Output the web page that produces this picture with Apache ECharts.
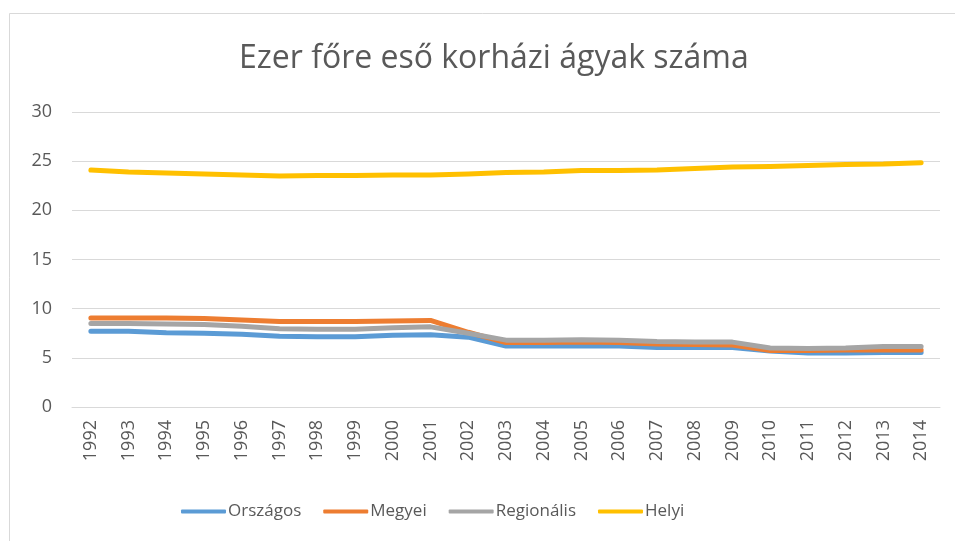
<!DOCTYPE html>
<html>
<head>
<meta charset="utf-8">
<script src="https://cdn.jsdelivr.net/npm/echarts@6/dist/echarts.min.js"></script>
<style>
  html, body { margin: 0; padding: 0; background: #fff; }
  #chart { width: 955px; height: 541px; }
</style>
</head>
<body>
<div id="chart"></div>
<script>
// évek és adatsorok
const years = ['1992','1993','1994','1995','1996','1997','1998','1999','2000','2001','2002','2003','2004','2005','2006','2007','2008','2009','2010','2011','2012','2013','2014'];
const orszagos = [7.7, 7.7, 7.55, 7.5, 7.4, 7.2, 7.15, 7.15, 7.3, 7.35, 7.1, 6.2, 6.2, 6.2, 6.2, 6.05, 6.05, 6.05, 5.7, 5.5, 5.5, 5.55, 5.55];
const megyei = [9.05, 9.05, 9.05, 9.0, 8.85, 8.7, 8.7, 8.7, 8.75, 8.8, 7.6, 6.55, 6.55, 6.6, 6.55, 6.4, 6.35, 6.3, 5.75, 5.75, 5.8, 5.8, 5.8];
const regionalis = [8.5, 8.5, 8.45, 8.4, 8.2, 7.95, 7.9, 7.9, 8.05, 8.15, 7.5, 6.8, 6.8, 6.85, 6.8, 6.65, 6.6, 6.6, 6.0, 5.95, 6.0, 6.15, 6.15];
const helyi = [24.1, 23.9, 23.8, 23.7, 23.6, 23.5, 23.55, 23.55, 23.6, 23.6, 23.7, 23.85, 23.9, 24.05, 24.05, 24.1, 24.25, 24.4, 24.45, 24.55, 24.65, 24.7, 24.85];

var chart = echarts.init(document.getElementById('chart'));

function line(name, data, color) {
  return {
    name: name,
    type: 'line',
    data: data,
    symbol: 'none',
    lineStyle: { width: 5, color: color, cap: 'round', join: 'round' },
    itemStyle: { color: color }
  };
}

var option = {
  animation: false,
  backgroundColor: '#fff',
  graphic: [{
    type: 'rect',
    shape: { x: 9.5, y: 13.5, width: 960, height: 540 },
    style: { fill: 'none', stroke: '#d9d9d9', lineWidth: 1 }
  }],
  title: {
    text: 'Ezer főre eső korházi ágyak száma',
    left: 234,
    top: 38,
    textStyle: { fontFamily: 'Open Sans', fontSize: 32, fontWeight: 'normal', color: '#595959' }
  },
  legend: {
    bottom: 16,
    left: 176,
    itemWidth: 45,
    itemHeight: 4,
    itemGap: 22,
    icon: 'roundRect',
    textStyle: { fontFamily: 'Open Sans', fontSize: 17, color: '#595959', padding: [0, 0, 0, -3] },
    data: ['Országos', 'Megyei', 'Regionális', 'Helyi']
  },
  grid: { left: 72, right: 15, top: 112, bottom: 134 },
  xAxis: {
    type: 'category',
    data: years,
    boundaryGap: true,
    axisLine: { lineStyle: { color: '#d9d9d9', width: 1 } },
    axisTick: { show: false },
    axisLabel: { rotate: 90, fontFamily: 'Open Sans', fontSize: 18, color: '#595959', margin: 13, interval: 0 }
  },
  yAxis: {
    type: 'value',
    min: 0,
    max: 30,
    interval: 5,
    axisLine: { show: false },
    axisTick: { show: false },
    splitLine: { lineStyle: { color: '#d9d9d9', width: 1 } },
    axisLabel: { fontFamily: 'Open Sans', fontSize: 18, color: '#595959', margin: 20 }
  },
  series: [
    line('Országos', orszagos, '#5B9BD5'),
    line('Megyei', megyei, '#ED7D31'),
    line('Regionális', regionalis, '#A5A5A5'),
    line('Helyi', helyi, '#FFC000')
  ]
};

chart.setOption(option);
</script>
</body>
</html>
